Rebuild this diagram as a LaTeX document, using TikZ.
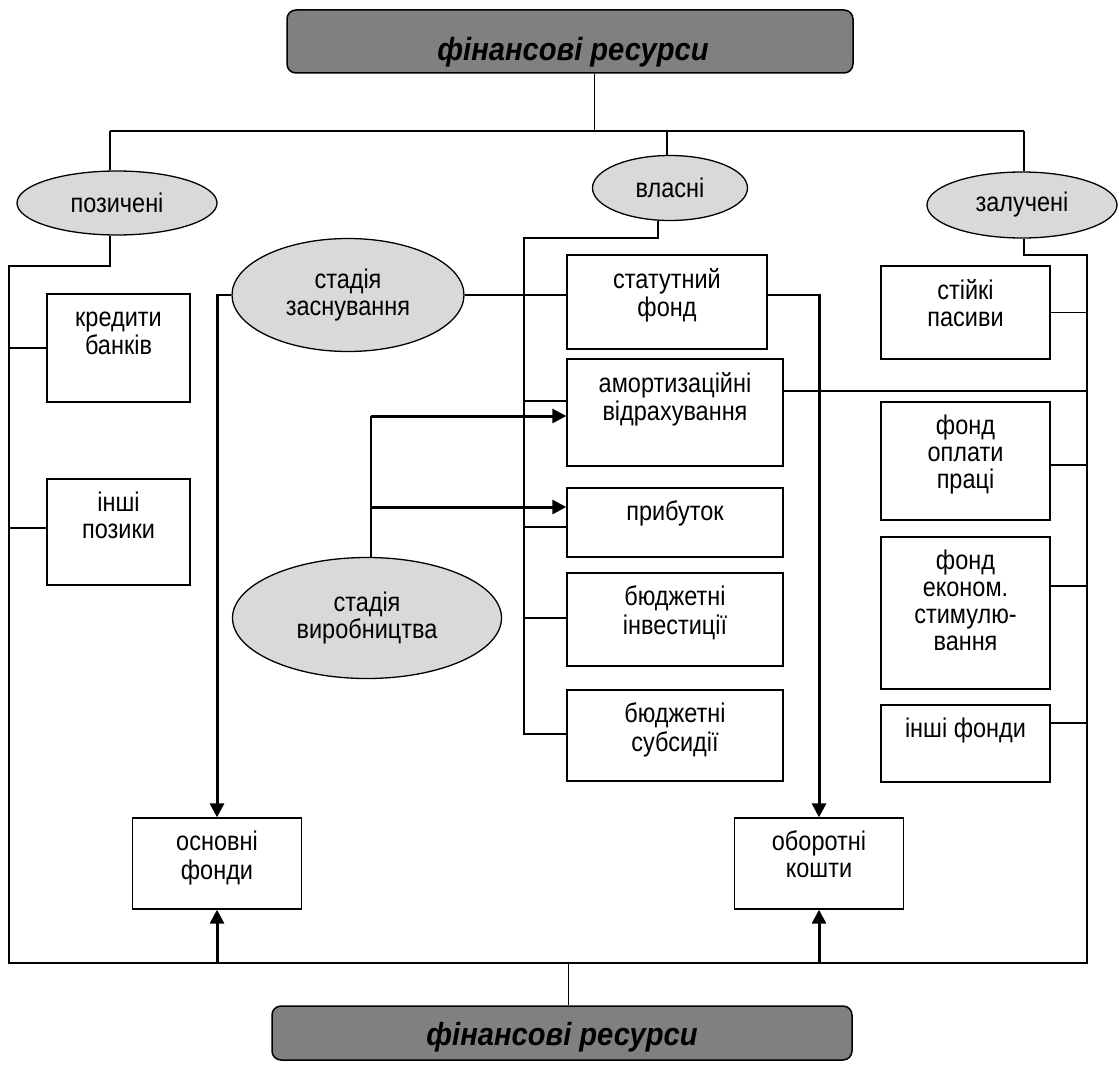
\documentclass[tikz,border=0pt]{standalone}
\usepackage{fontspec}
\setmainfont{Liberation Sans}
\usetikzlibrary{shapes.geometric,arrows.meta}
\definecolor{ellfill}{HTML}{D9D9D9}
\definecolor{titlefill}{HTML}{808080}
\begin{document}
\begin{tikzpicture}[x=1pt,y=-1pt,
  conn/.style={draw=black,line width=1.4pt},
  hair/.style={draw=black,line width=1pt},
  flow/.style={draw=black,line width=3pt,-{Triangle[length=14pt,width=14pt]}},
  boxst/.style={draw=black,line width=1.3pt,rectangle,inner sep=0pt,fill=white},
  ellst/.style={draw=black,line width=1.3pt,ellipse,inner sep=0pt,fill=ellfill},
  etxt/.style={anchor=center,align=center,inner sep=0pt,xscale=0.87,font=\fontsize{27}{27}\selectfont},
  txt/.style={anchor=north,align=center,inner sep=0pt,xscale=0.87,font=\fontsize{27}{27}\selectfont},
  titlebox/.style={draw=black,line width=1.5pt,rectangle,rounded corners=9pt,fill=titlefill,inner sep=0pt},
  titletxt/.style={anchor=base,inner sep=0pt,xscale=0.91,font=\fontsize{32}{34}\selectfont\bfseries\itshape}
]
\useasboundingbox (0,0) rectangle (1119,1065);

% title boxes
\node[titlebox,minimum width=566pt,minimum height=63pt] (top) at (570,41.5) {};
\node[titletxt] (topT) at (573,60) {фінансові ресурси};
\node[titlebox,minimum width=580pt,minimum height=54pt] (bot) at (562,1033) {};
\node[titletxt] (botT) at (562,1045) {фінансові ресурси};

% ellipses
\node[ellst,minimum width=200pt,minimum height=64pt] (poz) at (117,203) {};
\node[etxt] (pozT) at (poz.center) {позичені};
\node[ellst,minimum width=155pt,minimum height=65pt] (vlas) at (670,188) {};
\node[etxt] (vlasT) at (vlas.center) {власні};
\node[ellst,minimum width=190pt,minimum height=66pt] (zal) at (1022,205) {};
\node[etxt] (zalT) at (zal.center) {залучені};
\node[ellst,minimum width=232pt,minimum height=113pt] (zasn) at (348,295) {};
\node[etxt] (zasnT) at (zasn.center) {стадія\\заснування};
\node[ellst,minimum width=269pt,minimum height=121pt] (vyr) at (367,618) {};
\node[etxt] (vyrT) at (vyr.center) {стадія\\виробництва};

% boxes
\node[boxst,minimum width=143pt,minimum height=108pt] (kred) at (118.5,348) {};
\node[txt] (kredT) at ([yshift=-13.6pt]kred.north) {\strut кредити\\банків};
\node[boxst,minimum width=143pt,minimum height=106pt] (insh) at (118.5,532) {};
\node[txt] (inshT) at ([yshift=-13.6pt]insh.north) {\strut інші\\позики};
\node[boxst,minimum width=200pt,minimum height=94pt] (stat) at (667,302) {};
\node[txt] (statT) at ([yshift=-13.6pt]stat.north) {\strut статутний\\фонд};
\node[boxst,minimum width=216pt,minimum height=107pt] (amort) at (675,412.5) {};
\node[txt] (amortT) at ([yshift=-13.6pt]amort.north) {\strut амортизаційні\\відрахування};
\node[boxst,minimum width=216pt,minimum height=69pt] (prib) at (675,522.5) {};
\node[txt] (pribT) at ([yshift=-13.6pt]prib.north) {\strut прибуток};
\node[boxst,minimum width=216pt,minimum height=93pt] (binv) at (675,619.5) {};
\node[txt] (binvT) at ([yshift=-13.6pt]binv.north) {\strut бюджетні\\інвестиції};
\node[boxst,minimum width=216pt,minimum height=91pt] (bsub) at (675,735.5) {};
\node[txt] (bsubT) at ([yshift=-13.6pt]bsub.north) {\strut бюджетні\\субсидії};
\node[boxst,minimum width=169pt,minimum height=93pt] (stiik) at (965.5,312.5) {};
\node[txt] (stiikT) at ([yshift=-13.6pt]stiik.north) {\strut стійкі\\пасиви};
\node[boxst,minimum width=169pt,minimum height=118pt] (fop) at (965.5,461) {};
\node[txt] (fopT) at ([yshift=-13.6pt]fop.north) {\strut фонд\\оплати\\праці};
\node[boxst,minimum width=169pt,minimum height=152pt] (fes) at (965.5,613) {};
\node[txt] (fesT) at ([yshift=-13.6pt]fes.north) {\strut фонд\\економ.\\стимулю-\\вання};
\node[boxst,minimum width=169pt,minimum height=77pt] (ifond) at (965.5,743.5) {};
\node[txt] (ifondT) at ([yshift=-13.6pt]ifond.north) {\strut інші фонди};
\node[boxst,minimum width=169pt,minimum height=91pt] (osn) at (217,863.5) {};
\node[txt] (osnT) at ([yshift=-13.6pt]osn.north) {\strut основні\\фонди};
\node[boxst,minimum width=169pt,minimum height=91pt] (obor) at (819,863.5) {};
\node[txt] (oborT) at ([yshift=-13.6pt]obor.north) {\strut оборотні\\кошти};

% top distribution
\coordinate (hub) at (594,131);
\coordinate (hl) at (110,131);
\coordinate (hr) at (1024,131);
\coordinate (hv) at (667,131);
\draw[hair] (top.south -| hub) -- (hub);
\draw[conn] (hl) -- (hr);
\draw[conn] (hl) -- (hl |- poz.north);
\draw[conn] (hv) -- (hv |- vlas.north);
\draw[conn] (hr) -- (hr |- zal.north);

% outer bus
\coordinate (pl) at (110,266);
\coordinate (lb) at (9,266);
\coordinate (lbb) at (9,963);
\coordinate (rbb) at (1087,963);
\coordinate (rb) at (1087,255);
\coordinate (zl) at (1024,255);
\draw[conn] (pl |- poz.south) -- (pl) -- (lb) -- (lbb) -- (rbb) -- (rb) -- (zl) -- (zl |- zal.south);
\draw[conn] (kred.west) -- (kred.west -| lb);
\path ([yshift=4pt]insh.west) coordinate (inshc);
\draw[conn] (inshc) -- (inshc -| lb);

% own-resources bus
\coordinate (vb0) at (658,238);
\coordinate (vb) at (524,238);
\coordinate (vbe) at (524,734);
\draw[conn] (vb0 |- vlas.south) -- (vb0) -- (vb) -- (vbe) -- (vbe -| bsub.west);
\path ([yshift=11.5pt]amort.west) coordinate (amc);
\draw[conn] (amc) -- (amc -| vb);
\path ([yshift=-4.5pt]prib.west) coordinate (prc);
\draw[conn] (prc) -- (prc -| vb);
\path ([yshift=1.5pt]binv.west) coordinate (bic);
\draw[conn] (bic) -- (bic -| vb);

% founding stage
\coordinate (zc) at (zasn.west -| osn.north);
\coordinate (zd) at (zasn.east -| obor.north);
\draw[conn] (zasn.east) -- (zasn.east -| stat.west);
\draw[conn] (zasn.west) -- (zc);
\draw[flow] ([yshift=1.5pt]zc) -- (osn.north);
\draw[conn] (zasn.east -| stat.east) -- (zd);
\draw[flow] ([yshift=1.5pt]zd) -- (obor.north);

% production stage
\coordinate (a1) at (371,416);
\coordinate (a2) at (371,507);
\draw[conn] (a1 |- vyr.north) -- (a1);
\draw[flow] (a1) -- (a1 -| amort.west);
\draw[flow] (a2) -- (a2 -| prib.west);

% attracted resources bus
\path ([yshift=21.5pt]amort.east) coordinate (ame);
\draw[conn] (ame) -- (ame -| rb);
\draw[conn] (stiik.east) -- (stiik.east -| rb);
\path ([yshift=-4pt]fop.east) coordinate (fpc);
\draw[conn] (fpc) -- (fpc -| rb);
\path ([yshift=27pt]fes.east) coordinate (fec);
\draw[conn] (fec) -- (fec -| rb);
\path ([yshift=20.5pt]ifond.east) coordinate (ifc);
\draw[conn] (ifc) -- (ifc -| rb);

% bottom
\draw[flow] (lbb -| osn.south) -- (osn.south);
\draw[flow] (lbb -| obor.south) -- (obor.south);
\coordinate (bh) at (568,963);
\draw[hair] (bh) -- (bh |- bot.north);
\end{tikzpicture}
\end{document}
